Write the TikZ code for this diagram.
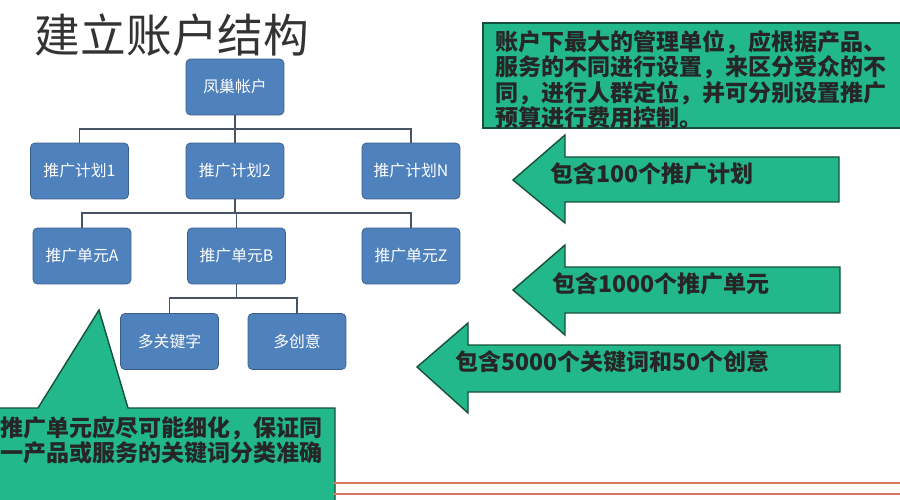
\documentclass[tikz,border=0pt]{standalone}
\usepackage{fontspec}
\setmainfont{Noto Sans CJK SC}
\usetikzlibrary{positioning, arrows.meta}
\definecolor{boxblue}{RGB}{79,129,189}
\definecolor{boxline}{RGB}{56,93,138}
\definecolor{notegreen}{RGB}{34,184,139}
\definecolor{noteline}{RGB}{22,80,58}
\definecolor{linkgray}{RGB}{70,84,100}
\definecolor{slidered}{RGB}{215,120,95}
\tikzset{
    unit/.style={draw=boxline, fill=boxblue, rounded corners=2.5pt,
        minimum width=1.96cm, minimum height=1.12cm,
        text=white, font=\fontsize{9}{10}\selectfont}, % blue tree boxes
    link/.style={draw=linkgray, line width=1.1pt}, % tree lines
    note/.style={draw=noteline, fill=notegreen, line width=0.8pt}, % green shapes
    notetext/.style={font=\bfseries\fontsize{13.1}{12.2}\selectfont,
        text=black!85, inner sep=0pt, align=left}, % text on green
}

\begin{document}
\begin{tikzpicture}[x=0.02cm, y=-0.02cm]
    \useasboundingbox (0,0) rectangle (900,500);

    \node[font=\fontsize{26}{28}\selectfont, text=black!80] (title) at (172,35) {建立账户结构};

    % account tree
    \node[unit] (root) at (235,87) {凤巢帐户};
    \node[unit] (plan1) at (79.5,171) {推广计划1};
    \node[unit] (plan2) at (235,171) {推广计划2};
    \node[unit] (planN) at (411,171) {推广计划N};
    \node[unit] (unitA) at (82,256) {推广单元A};
    \node[unit] (unitB) at (236.5,256) {推广单元B};
    \node[unit] (unitZ) at (411,256) {推广单元Z};
    \node[unit] (keys) at (169.5,341.5) {多关键字};
    \node[unit] (ideas) at (297,341.5) {多创意};

    \foreach \child in {plan1, plan2, planN}
        \draw[link] (root.south) -- ++(0,14) -| (\child.north);
    \foreach \child in {unitA, unitB, unitZ}
        \draw[link] (plan2.south) -- ++(0,14) -| (\child.north);
    \foreach \child in {keys, ideas}
        \draw[link] (unitB.south) -- ++(0,14) -| (\child.north);

    % green notes
    \draw[note] (483,23) rectangle (905,128);
    \node[notetext, anchor=north west] (plannote) at (495,30)
        {账户下最大的管理单位，应根据产品、\\服务的不同进行设置，来区分受众的不\\同，进行人群定位，并可分别设置推广\\预算进行费用控制。};

    \draw[note] (513,180) -- (565,135) -- (565,157) -- (839,157) -- (839,202)
        -- (565,202) -- (565,223) -- cycle;
    \node[notetext, anchor=west] (plancount) at (550,174) {包含100个推广计划};

    \draw[note] (513,290) -- (565,245) -- (565,267) -- (840,267) -- (840,313)
        -- (565,313) -- (565,335) -- cycle;
    \node[notetext, anchor=west] (unitcount) at (552,284) {包含1000个推广单元};

    \draw[note] (417,367) -- (468,323) -- (468,345) -- (840,345) -- (840,392)
        -- (468,392) -- (468,413) -- cycle;
    \node[notetext, anchor=west] (keycount) at (455,362) {包含5000个关键词和50个创意};

    \draw[note] (-2,408) -- (38,408) -- (99,310) -- (128,408) -- (335,408)
        -- (335,503) -- (-2,503) -- cycle;
    \node[notetext, anchor=north west] (unitnote) at (0,416)
        {推广单元应尽可能细化，保证同\\一产品或服务的关键词分类准确};

    % slide footer lines
    \draw[slidered, line width=1.2pt] (333,483) -- (900,483);
    \draw[slidered, line width=1.2pt] (333,494) -- (900,494);
\end{tikzpicture}
\end{document}
